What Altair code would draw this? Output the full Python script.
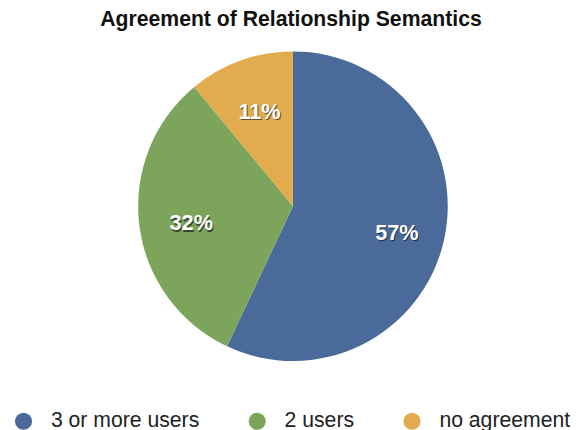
import altair as alt
import pandas as pd

categories = ["3 or more users", "2 users", "no agreement"]
values = [57, 32, 11]
labels = ["57%", "32%", "11%"]
colors = ["#4a6a9a", "#7ca45b", "#e2ab4e"]
order = [0, 1, 2]

df = pd.DataFrame({"category": categories, "value": values, "label": labels, "order": order})

FONT = "Liberation Sans"

base = alt.Chart(df).encode(
    theta=alt.Theta("value:Q", stack=True),
    order=alt.Order("order:Q"),
)

pie = base.mark_arc(stroke=None).encode(
    color=alt.Color(
        "category:N",
        scale=alt.Scale(domain=categories, range=colors),
        sort=categories,
        legend=alt.Legend(
            title=None,
            orient="none",
            direction="horizontal",
            legendX=-127,
            legendY=364,
            padding=0,
            symbolType="circle",
            symbolSize=300,
            symbolStrokeWidth=0,
            symbolOpacity=1,
            labelFont=FONT,
            labelFontSize=21.5,
            labelColor="#222222",
            labelOffset=17,
            labelLimit=0,
            columnPadding=47,
        ),
    ),
    radius=alt.value(157),
)

shadow = base.mark_text(
    font=FONT, fontSize=22, fontWeight="bold", color="#000000", opacity=0.55, dx=3, dy=5.5
).encode(text="label:N", radius=alt.value(106))

text = base.mark_text(
    font=FONT, fontSize=22, fontWeight="bold", color="#ffffff", dx=2, dy=4
).encode(text="label:N", radius=alt.value(106))

chart = alt.layer(pie, shadow, text).properties(
    width=314,
    height=314,
    padding={"left": 132, "top": 41, "right": 126, "bottom": 67},
    autosize=alt.AutoSizeParams(type="none"),
    title=alt.TitleParams(
        "Agreement of Relationship Semantics",
        font=FONT,
        fontSize=21.5,
        fontWeight="bold",
        color="#111111",
        anchor="middle",
        dx=-2,
        dy=-17,
    ),
).configure_view(stroke=None)

chart.save("out.html", embed_options={"renderer": "svg", "actions": False})
